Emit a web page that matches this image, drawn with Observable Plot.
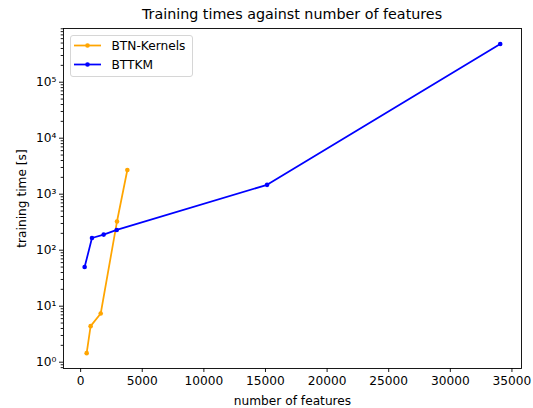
<!DOCTYPE html>
<html><head><meta charset="utf-8">
<script src="https://cdn.jsdelivr.net/npm/d3@7"></script>
<script src="https://cdn.jsdelivr.net/npm/@observablehq/plot@0.6"></script>
<style>
body{margin:0;background:#fff;font-family:"DejaVu Sans",sans-serif;}
#wrap{position:relative;width:533px;height:408px;overflow:hidden;}
#title{position:absolute;left:63px;width:458px;top:0;height:27px;text-align:center;font-size:14.3px;line-height:15px;padding-top:7px;box-sizing:border-box;color:#000;white-space:nowrap;}
#chart{position:absolute;left:0;top:27px;}
#legend{position:absolute;left:70px;top:35px;width:123px;height:42px;border:1px solid #d6d6d6;border-radius:3px;background:rgba(255,255,255,0.8);box-sizing:border-box;}
</style></head>
<body><div id="wrap"><div id="title">Training times against number of features</div><div id="chart"></div><div id="legend"></div></div>
<script>
const seriesNames = ["BTN-Kernels", "BTTKM"];
const seriesColors = ["orange", "blue"];
const btnFeatures = [490, 810, 1630, 2950, 3790];
const btnTimes = [1.45, 4.4, 7.4, 325, 2700];
const bttkmFeatures = [325, 920, 1870, 2930, 15130, 34050];
const bttkmTimes = [50, 165, 190, 230, 1470, 480000];
const xTicks = [0, 5000, 10000, 15000, 20000, 25000, 30000, 35000];
const yMajorTicks = [1, 10, 100, 1000, 10000, 100000];
const yTickLabels = ["10\u2070", "10\u00b9", "10\u00b2", "10\u00b3", "10\u2074", "10\u2075"];

const rows = [];
btnFeatures.forEach((f, i) => rows.push({features: f, time: btnTimes[i], series: seriesNames[0]}));
bttkmFeatures.forEach((f, i) => rows.push({features: f, time: bttkmTimes[i], series: seriesNames[1]}));

const yDomain = [Math.pow(10, -0.1125), Math.pow(10, 5.959)];
const yMinor = [];
for (let k = -1; k <= 5; k++) for (let m = 2; m <= 9; m++) {
  const v = m * Math.pow(10, k);
  if (v >= yDomain[0] && v <= yDomain[1]) yMinor.push(v);
}

const chart = Plot.plot({
  width: 533,
  height: 381,
  marginLeft: 63,
  marginRight: 12,
  marginTop: 1,
  marginBottom: 40,
  style: {fontSize: "12.2px", fontFamily: "DejaVu Sans", color: "black", background: "white"},
  x: {domain: [-1390, 35775]},
  y: {type: "log", domain: yDomain},
  color: {domain: seriesNames, range: seriesColors},
  marks: [
    Plot.axisY({ticks: yMinor, tickSize: 2.3, tickFormat: () => "", label: null, strokeWidth: 0.9}),
    Plot.axisY({ticks: yMajorTicks, tickSize: 4, tickPadding: 3, tickFormat: (d) => yTickLabels[yMajorTicks.indexOf(d)],
      label: "training time [s]", labelAnchor: "center", labelArrow: "none", labelOffset: 46, strokeWidth: 0.9}),
    Plot.axisX({ticks: xTicks, tickSize: 4, tickPadding: 4, tickFormat: d => String(d),
      label: "number of features", labelAnchor: "center", labelArrow: "none", labelOffset: 36, strokeWidth: 0.9}),
    Plot.line(rows, {x: "features", y: "time", z: "series", stroke: "series", strokeWidth: 1.75}),
    Plot.dot(rows, {x: "features", y: "time", fill: "series", r: 2.3}),
    Plot.frame({stroke: "black", strokeWidth: 0.9})
  ]
});
document.getElementById("chart").appendChild(chart);

const leg = d3.select("#legend").append("svg").attr("width", 121).attr("height", 40)
  .style("position", "absolute").style("left", "0px").style("top", "0px");
seriesNames.forEach((name, i) => {
  const y = 9.5 + i * 19;
  leg.append("line").attr("x1", 3).attr("x2", 30).attr("y1", y).attr("y2", y)
    .attr("stroke", seriesColors[i]).attr("stroke-width", 1.75);
  leg.append("circle").attr("cx", 16.5).attr("cy", y).attr("r", 2.3).attr("fill", seriesColors[i]);
  leg.append("text").attr("x", 40.5).attr("y", y).attr("dy", "0.35em")
    .attr("font-family", "DejaVu Sans").attr("font-size", "12.2px").attr("fill", "black").text(name);
});
</script>
</body></html>
